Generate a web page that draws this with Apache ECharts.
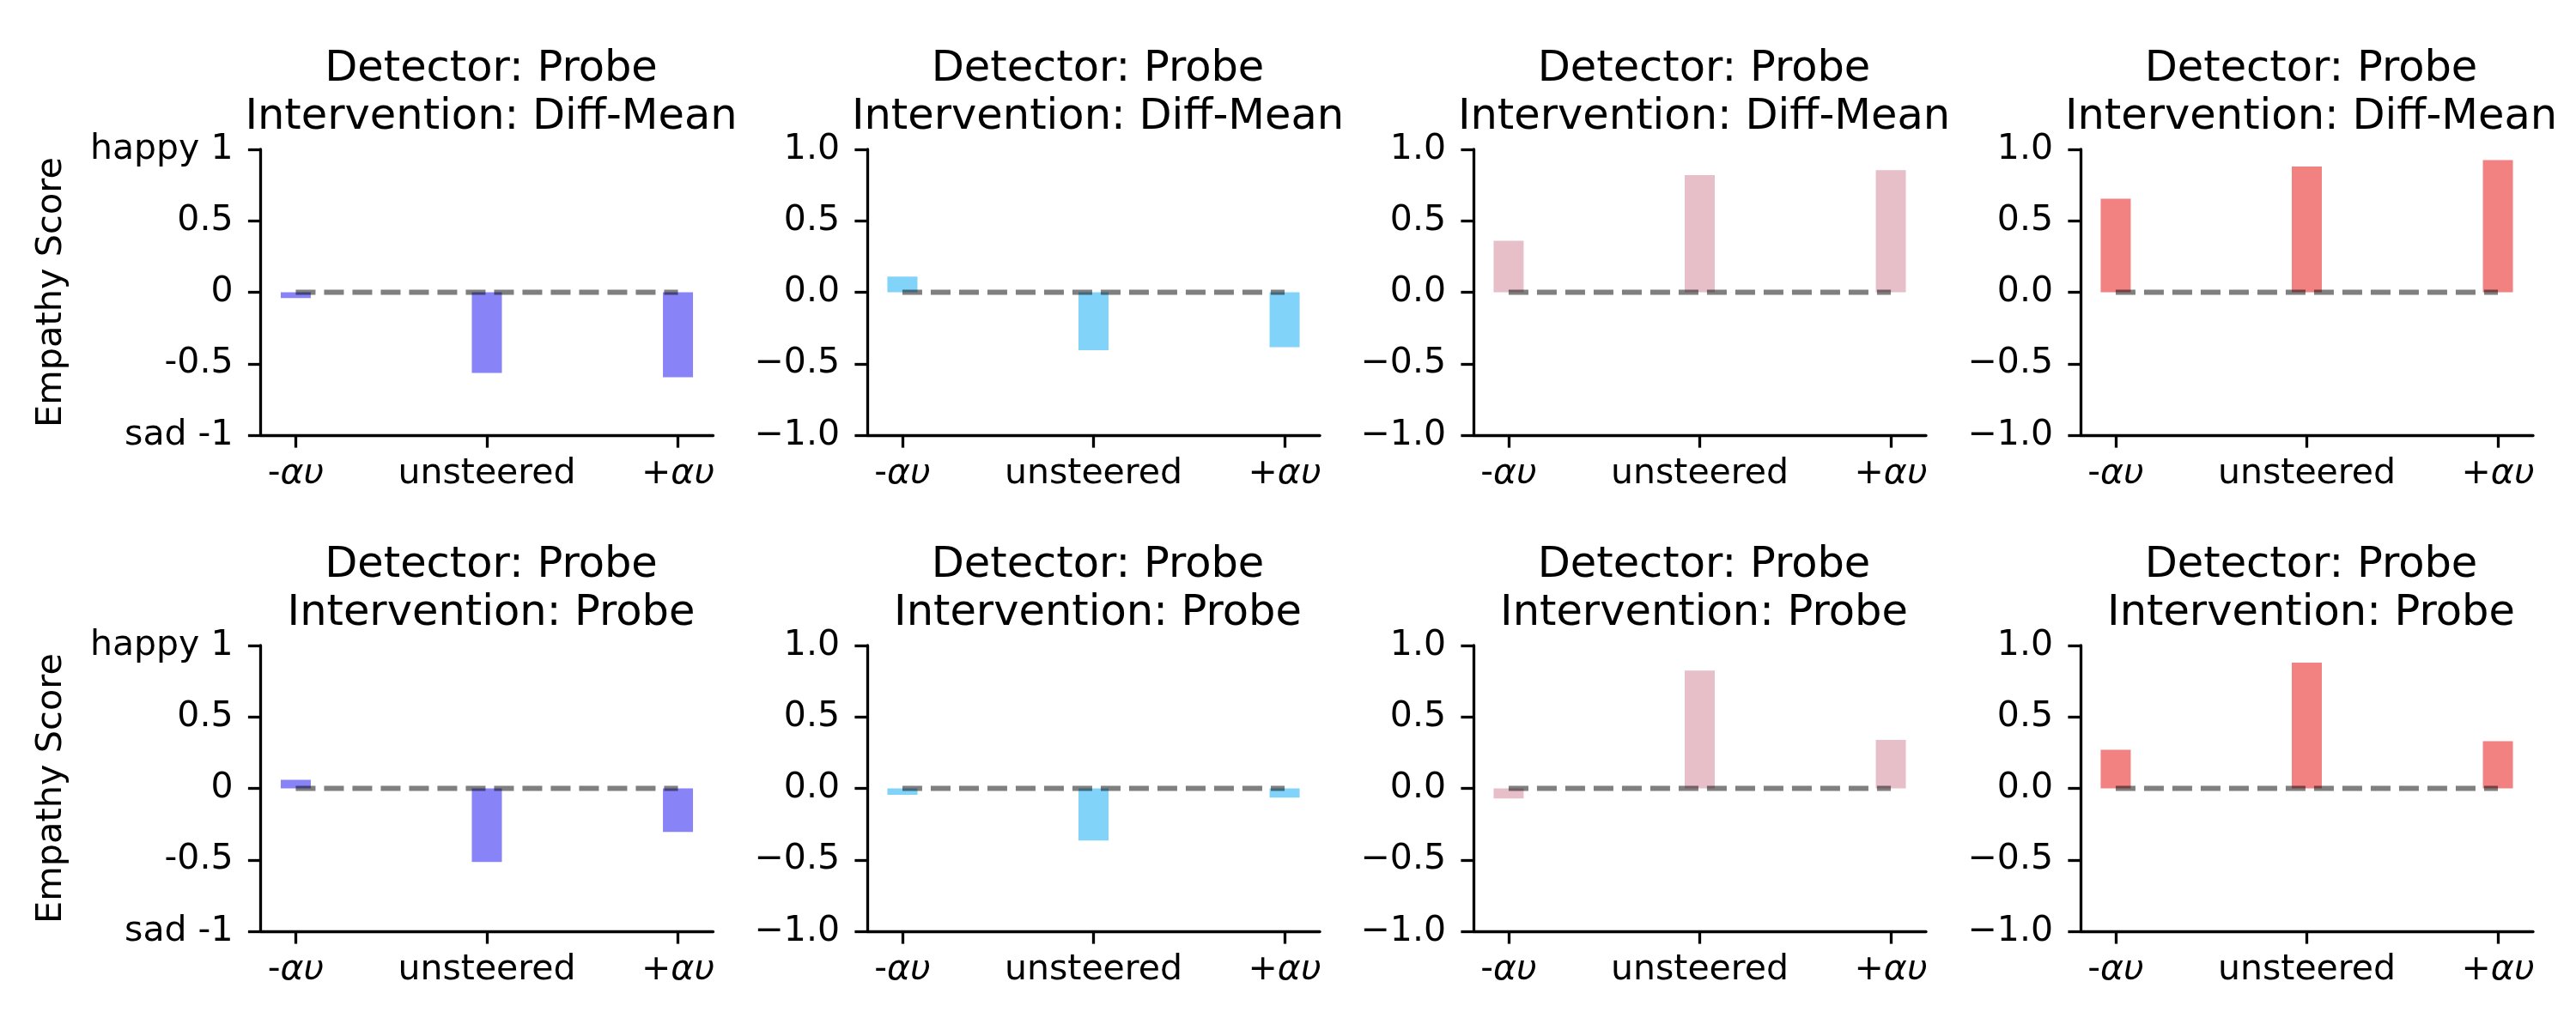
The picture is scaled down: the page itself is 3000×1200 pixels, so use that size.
<!DOCTYPE html>
<html><head><meta charset="utf-8">
<script src="https://cdn.jsdelivr.net/npm/echarts@6/dist/echarts.min.js"></script>
<style>html,body{margin:0;padding:0;background:#fff}#c{width:3000px;height:1200px}</style>
</head><body><div id="c"></div>
<script>
// ---- data ----
const categories = ['-αυ', 'unsteered', '+αυ'];
const rowTitles = ['Detector: Probe\nIntervention: Diff-Mean', 'Detector: Probe\nIntervention: Probe'];
const panelColors = ['#8884f8', '#82d3fa', '#e6bfc8', '#f28181'];
const diffMeanValues = [
  [-0.04, -0.565, -0.595],
  [0.11, -0.405, -0.385],
  [0.36, 0.82, 0.855],
  [0.655, 0.88, 0.925]
];
const probeValues = [
  [0.06, -0.515, -0.305],
  [-0.045, -0.365, -0.065],
  [-0.07, 0.825, 0.34],
  [0.27, 0.88, 0.33]
];
const yTickValues = [-1, -0.5, 0, 0.5, 1];
const firstColYLabels = ['sad -1', '-0.5', '0', '0.5', 'happy 1'];
const otherYLabels = ['\u22121.0', '\u22120.5', '0.0', '0.5', '1.0'];
const yAxisName = 'Empathy Score';
const baselineX = [0, 2];
const baselineY = [0, 0];

// ---- layout ----
const FONT = 'DejaVu Sans';
const TICK_FS = 41;
const lefts = [303.5, 1010, 1716, 2423];
const tops = [174, 752];
const W = 527, H = 333;
const rows = [diffMeanValues, probeValues];

const grid = [], xAxis = [], yAxis = [], series = [], title = [];
let idx = 0;
for (let r = 0; r < 2; r++) {
  for (let c = 0; c < 4; c++) {
    grid.push({left: lefts[c], top: tops[r], width: W, height: H, containLabel: false});
    const ylabels = c === 0 ? firstColYLabels : otherYLabels;
    xAxis.push({
      type: 'value', gridIndex: idx, min: -0.184, max: 2.184,
      axisLine: {onZero: false, lineStyle: {color: '#000', width: 3.3}},
      axisTick: {show: true, length: 14.6, lineStyle: {color: '#000', width: 3.3}, customValues: [0, 1, 2]},
      splitLine: {show: false},
      axisLabel: {
        customValues: [0, 1, 2], margin: 25, color: '#000', fontSize: TICK_FS, fontFamily: FONT,
        formatter: function (v) {
          const s = categories[Math.round(v)];
          return s.replace('αυ', '{i|αυ}');
        },
        rich: {i: {fontStyle: 'italic', fontSize: TICK_FS, fontFamily: FONT, color: '#000'}}
      }
    });
    yAxis.push({
      type: 'value', gridIndex: idx, min: -1, max: 1, interval: 0.5,
      axisLine: {show: true, onZero: false, lineStyle: {color: '#000', width: 3.3}},
      axisTick: {show: true, length: 14.6, lineStyle: {color: '#000', width: 3.3}},
      splitLine: {show: false},
      axisLabel: {
        margin: 32, color: '#000', fontSize: TICK_FS, fontFamily: FONT,
        formatter: function (v) {
          const i = yTickValues.findIndex(t => Math.abs(t - v) < 1e-9);
          return i >= 0 ? ylabels[i] : '';
        }
      },
      name: c === 0 ? yAxisName : '',
      nameLocation: 'middle', nameGap: 222, nameRotate: 90,
      nameTextStyle: {fontSize: 41.5, fontFamily: FONT, color: '#000'}
    });
    series.push({
      type: 'bar', xAxisIndex: idx, yAxisIndex: idx, barWidth: 35,
      itemStyle: {color: panelColors[c]},
      data: rows[r][c].map((v, k) => [k, v]), z: 2
    });
    series.push({
      type: 'line', xAxisIndex: idx, yAxisIndex: idx, symbol: 'none', z: 3,
      lineStyle: {color: 'rgba(0,0,0,0.5)', width: 6, type: [23, 10]},
      data: baselineX.map((x, k) => [x, baselineY[k]])
    });
    title.push({
      text: rowTitles[r], left: lefts[c] + W / 2, top: tops[r] - 125.5, textAlign: 'center',
      textStyle: {fontSize: 49.5, lineHeight: 55.5, fontWeight: 'normal', color: '#000', fontFamily: FONT}
    });
    idx++;
  }
}

const chart = echarts.init(document.getElementById('c'), null, {renderer: 'canvas'});
chart.setOption({animation: false, backgroundColor: '#fff', title, grid, xAxis, yAxis, series});
</script>
</body></html>
